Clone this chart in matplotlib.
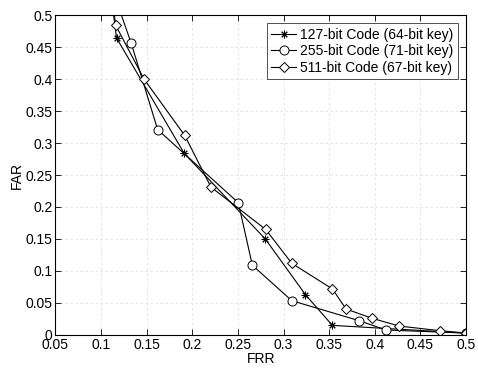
import numpy as np
import matplotlib.pyplot as plt
from matplotlib.ticker import FuncFormatter

plt.rcParams['font.family'] = ['Liberation Sans', 'DejaVu Sans']

# 127-bit code (64-bit key)
frr_127 = [0.110, 0.117, 0.191, 0.280, 0.324, 0.3535, 0.500]
far_127 = [0.540, 0.464, 0.284, 0.150, 0.063, 0.015, 0.003]

# 255-bit code (71-bit key)
frr_255 = [0.110, 0.133, 0.162, 0.2504, 0.2658, 0.309, 0.3827, 0.4123, 0.500]
far_255 = [0.550, 0.456, 0.321, 0.2067, 0.109, 0.0536, 0.0224, 0.0078, 0.003]

# 511-bit code (67-bit key)
frr_511 = [0.113, 0.116, 0.147, 0.1916, 0.2205, 0.2804, 0.309, 0.3535, 0.3685, 0.3973, 0.4266, 0.4715, 0.500]
far_511 = [0.520, 0.484, 0.400, 0.312, 0.231, 0.165, 0.112, 0.072, 0.0406, 0.026, 0.014, 0.0067, 0.003]

labels = ['127-bit Code (64-bit key)', '255-bit Code (71-bit key)', '511-bit Code (67-bit key)']

fig = plt.figure(figsize=(4.78, 3.68), dpi=100)
ax = fig.add_axes([0.116, 0.0897, 0.859, 0.8695])

ax.plot(frr_127, far_127, color='k', lw=0.8, marker=(8, 2, 0), ms=5.5, mew=0.7, label=labels[0])
ax.plot(frr_255, far_255, color='k', lw=0.8, marker='o', ms=6.5, mfc='white', mew=0.7, label=labels[1])
ax.plot(frr_511, far_511, color='k', lw=0.8, marker='D', ms=5, mfc='white', mew=0.7, label=labels[2])

ax.set_xlim(0.05, 0.5)
ax.set_ylim(0, 0.5)
ax.set_xticks(np.arange(0.05, 0.5001, 0.05))
ax.set_yticks(np.arange(0, 0.5001, 0.05))
fmt = FuncFormatter(lambda v, p: '%g' % round(v, 2))
ax.xaxis.set_major_formatter(fmt)
ax.yaxis.set_major_formatter(fmt)
ax.tick_params(direction='in', top=True, right=True, labelsize=10, length=4, width=0.6, pad=2)
ax.grid(True, color='#e0e0e0', linestyle=(0, (3, 3)), linewidth=0.6)
for s in ax.spines.values():
    s.set_linewidth(0.8)

ax.set_xlabel('FRR', fontsize=10, labelpad=0)
ax.set_ylabel('FAR', fontsize=10, labelpad=1)

leg = ax.legend(loc='upper right', fontsize=10, fancybox=False, edgecolor='k',
                handlelength=1.8, handletextpad=0.3, borderaxespad=0.6,
                borderpad=0.3, labelspacing=0.2)
leg.get_frame().set_linewidth(0.6)

fig.savefig('out.png', dpi=100)
